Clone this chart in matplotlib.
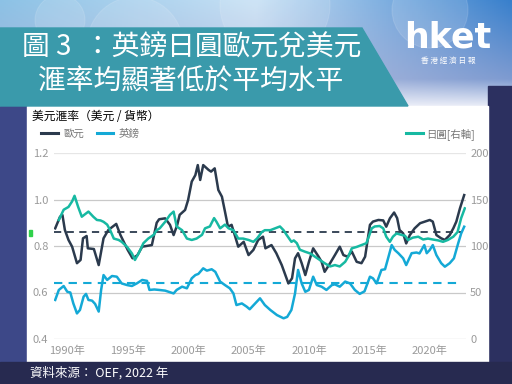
import numpy as np
import matplotlib
matplotlib.use("Agg")
import matplotlib.pyplot as plt
from matplotlib.patches import Rectangle, Polygon, Circle
from matplotlib.lines import Line2D

plt.rcParams['font.family'] = ['Noto Sans CJK TC', 'DejaVu Sans']

# ---- data ----
eur_year = [1989.0, 1989.4, 1989.6, 1989.8, 1990.1, 1990.4, 1990.8, 1991.1, 1991.3, 1991.6,
            1991.7, 1992.2, 1992.6, 1993.0, 1993.4, 1994.05, 1994.4, 1995.0, 1995.4, 1995.8,
            1996.2, 1997.0, 1997.4, 1997.6, 1998.1, 1998.5, 1998.8, 1999.1, 1999.3, 1999.75,
            2000.0, 2000.3, 2000.6, 2000.8, 2001.0, 2001.25, 2001.7, 2001.9, 2002.2, 2002.5,
            2002.8, 2003.05, 2003.3, 2003.6, 2003.9, 2004.15, 2004.6, 2005.0, 2005.4, 2005.8,
            2006.2, 2006.4, 2006.9, 2007.3, 2007.75, 2008.3, 2008.6, 2008.85, 2009.1, 2009.4,
            2009.7, 2010.0, 2010.35, 2010.8, 2011.05, 2011.3, 2011.75, 2012.15, 2012.55, 2012.85,
            2013.2, 2013.55, 2013.95, 2014.35, 2014.65, 2014.9, 2015.05, 2015.3, 2015.75, 2016.15,
            2016.4, 2016.7, 2017.05, 2017.3, 2017.5, 2017.8, 2018.05, 2018.35, 2018.75, 2019.2,
            2019.6, 2020.0, 2020.25, 2020.55, 2020.95, 2021.25, 2021.65, 2021.95, 2022.2, 2022.5,
            2022.85]
eur_val = [0.876, 0.926, 0.933, 0.869, 0.826, 0.797, 0.726, 0.740, 0.833, 0.843,
           0.790, 0.787, 0.718, 0.833, 0.869, 0.895, 0.847, 0.783, 0.747, 0.760,
           0.797, 0.804, 0.900, 0.915, 0.919, 0.891, 0.847, 0.891, 0.934, 0.955,
           0.998, 1.077, 1.105, 1.148, 1.084, 1.148, 1.127, 1.120, 1.134, 1.041,
           1.012, 0.948, 0.883, 0.891, 0.840, 0.797, 0.818, 0.761, 0.783, 0.826,
           0.840, 0.790, 0.804, 0.769, 0.718, 0.639, 0.661, 0.747, 0.769, 0.726,
           0.675, 0.732, 0.790, 0.754, 0.732, 0.689, 0.726, 0.761, 0.797, 0.761,
           0.754, 0.776, 0.732, 0.726, 0.754, 0.840, 0.891, 0.905, 0.912, 0.910,
           0.883, 0.919, 0.944, 0.920, 0.869, 0.854, 0.811, 0.847, 0.876, 0.898,
           0.905, 0.912, 0.905, 0.847, 0.833, 0.826, 0.847, 0.876, 0.905, 0.962,
           1.019]

gbp_year = [1989.0, 1989.3, 1989.7, 1990.0, 1990.25, 1990.5, 1990.8, 1991.05, 1991.35, 1991.55,
            1991.75, 1992.05, 1992.3, 1992.6, 1992.8, 1993.0, 1993.3, 1993.7, 1994.1, 1994.5,
            1994.95, 1995.35, 1995.75, 1996.2, 1996.6, 1996.8, 1997.2, 1997.6, 1998.1, 1998.8,
            1999.05, 1999.5, 1999.9, 2000.3, 2000.6, 2000.85, 2001.25, 2001.55, 2001.95, 2002.25,
            2002.65, 2003.05, 2003.45, 2003.75, 2004.0, 2004.45, 2004.85, 2005.1, 2005.55, 2005.95,
            2006.35, 2006.8, 2007.35, 2007.9, 2008.2, 2008.55, 2008.85, 2009.1, 2009.4, 2009.7,
            2010.0, 2010.35, 2010.65, 2011.05, 2011.45, 2011.9, 2012.15, 2012.55, 2013.0, 2013.4,
            2013.8, 2014.2, 2014.6, 2014.9, 2015.05, 2015.3, 2015.6, 2016.0, 2016.3, 2016.55,
            2016.85, 2017.1, 2017.4, 2017.8, 2018.05, 2018.5, 2018.9, 2019.15, 2019.55, 2019.75,
            2020.0, 2020.25, 2020.55, 2020.95, 2021.25, 2021.65, 2022.0, 2022.35, 2022.6, 2022.85]
gbp_val = [0.568, 0.611, 0.628, 0.603, 0.600, 0.553, 0.510, 0.525, 0.582, 0.594,
           0.568, 0.565, 0.551, 0.518, 0.611, 0.675, 0.654, 0.671, 0.668, 0.639,
           0.632, 0.628, 0.639, 0.654, 0.650, 0.611, 0.613, 0.611, 0.608, 0.596,
           0.611, 0.625, 0.618, 0.661, 0.675, 0.680, 0.704, 0.694, 0.700, 0.689,
           0.647, 0.632, 0.618, 0.596, 0.546, 0.553, 0.539, 0.528, 0.553, 0.575,
           0.546, 0.525, 0.503, 0.489, 0.495, 0.525, 0.596, 0.697, 0.639, 0.603,
           0.611, 0.668, 0.632, 0.625, 0.611, 0.632, 0.635, 0.625, 0.647, 0.639,
           0.611, 0.594, 0.605, 0.647, 0.668, 0.661, 0.639, 0.697, 0.700, 0.747,
           0.804, 0.783, 0.769, 0.747, 0.718, 0.769, 0.772, 0.768, 0.804, 0.769,
           0.783, 0.804, 0.761, 0.726, 0.711, 0.726, 0.747, 0.811, 0.854, 0.883]

jpy_year = [1989.3, 1989.7, 1990.1, 1990.4, 1990.6, 1990.9, 1991.2, 1991.55, 1991.75, 1992.15,
            1992.45, 1992.75, 1993.0, 1993.3, 1993.55, 1993.85, 1994.25, 1994.5, 1994.95, 1995.35,
            1995.6, 1995.9, 1996.3, 1996.7, 1997.15, 1997.4, 1997.65, 1998.1, 1998.5, 1998.8,
            1999.05, 1999.5, 1999.9, 2000.3, 2000.7, 2001.15, 2001.4, 2001.8, 2002.15, 2002.35,
            2002.65, 2003.05, 2003.35, 2003.75, 2004.15, 2004.55, 2005.0, 2005.4, 2005.7, 2006.1,
            2006.35, 2006.8, 2007.2, 2007.6, 2007.9, 2008.15, 2008.55, 2008.75, 2009.0, 2009.25,
            2009.65, 2010.1, 2010.5, 2010.9, 2011.3, 2011.75, 2012.15, 2012.55, 2013.0, 2013.25,
            2013.55, 2013.95, 2014.35, 2014.75, 2014.9, 2015.2, 2015.45, 2015.85, 2016.15, 2016.4,
            2016.7, 2016.95, 2017.25, 2017.65, 2017.95, 2018.2, 2018.6, 2019.05, 2019.45, 2019.85,
            2020.25, 2020.7, 2021.1, 2021.5, 2021.95, 2022.3, 2022.6, 2022.9]
jpy_val = [128, 139, 142, 148, 154, 142, 131.5, 135, 137, 131.5,
           128, 127.5, 126, 123, 117, 108, 106.5, 104.5, 99, 92,
           85, 92, 103, 108, 112, 117, 119, 126, 133.5, 137,
           121, 117, 108, 106.5, 108, 112, 119, 121, 130, 126,
           119, 123, 119, 117, 108, 108, 106.5, 104.5, 108, 115,
           117, 117, 119, 121, 117, 112, 104.5, 106, 103, 96,
           94, 92, 88.5, 85, 81.5, 78, 79.5, 78, 83, 88.5,
           97.5, 99, 101, 103, 108, 119, 121, 121.5, 119, 110,
           104.5, 110, 113.5, 112, 111, 106.5, 109, 110, 107, 108,
           107, 106, 104.5, 106.5, 110, 115, 130, 140.5]

eur_avg = 0.861
gbp_avg = 0.642
year_ticks = [1990, 1995, 2000, 2005, 2010, 2015, 2020]
left_ticks = [0.4, 0.6, 0.8, 1.0, 1.2]
right_ticks = [0, 50, 100, 150, 200]

C_EUR = '#2b3a4d'
C_GBP = '#14a9d6'
C_JPY = '#17b9a2'
NAVY = '#272a50'

fig = plt.figure(figsize=(5.12, 3.84), dpi=100)

# ---- background decoration (pixel coordinates) ----
bg = fig.add_axes([0, 0, 1, 1])
bg.set_xlim(0, 512)
bg.set_ylim(384, 0)
bg.axis('off')
bg.add_patch(Rectangle((0, 0), 512, 384, color=NAVY, zorder=0))

# top photo-like gradient
H, W = 110, 256
xs = np.linspace(0, 1, W)
ys = np.linspace(0, 1, H)[:, None]
left_c = np.array([0.55, 0.76, 0.90])
mid_c = np.array([0.78, 0.88, 0.96])
right_c = np.array([0.22, 0.50, 0.80])
top = np.where(xs[:, None] < 0.5,
               left_c + (mid_c - left_c) * (xs[:, None] / 0.5),
               mid_c + (right_c - mid_c) * ((xs[:, None] - 0.5) / 0.5))
lav = np.array([0.68, 0.68, 0.83])
wht = np.array([0.97, 0.97, 0.99])
img = np.zeros((H, W, 3))
for i in range(H):
    t = ys[i, 0]
    if t < 0.72:
        a = t / 0.72
        row = top * (1 - a * 0.6) + lav * a * 0.6
    else:
        a = (t - 0.72) / 0.28
        row = (top * 0.4 + lav * 0.6) * (1 - a) + wht * a
    img[i] = row
bg.imshow(img, extent=(0, 512, 110, 0), aspect='auto', zorder=1)
for cx, cy, r in [(135, 45, 48), (275, 5, 55), (430, 10, 38), (60, 20, 25)]:
    bg.add_patch(Circle((cx, cy), r, facecolor='white', alpha=0.12,
                        edgecolor='white', lw=0.8, zorder=2))

# side and bottom frames, white panel
bg.add_patch(Rectangle((488, 86), 24, 298, color='#2c3060', zorder=3))
bg.add_patch(Rectangle((0, 106), 27, 256, color='#3d4888', zorder=3))
bg.add_patch(Rectangle((27, 106), 461, 256, color='white', zorder=3))
bg.add_patch(Rectangle((0, 362), 512, 22, color=NAVY, zorder=3))
bg.add_patch(Rectangle((28.5, 230), 3, 6, color='#2fd14a', zorder=4))

# title banner
bg.add_patch(Polygon([(0, 28), (362, 28), (408, 106), (0, 106)],
                     closed=True, color='#3a9aab', zorder=4))
bg.text(22, 47, '圖 3  ：英鎊日圓歐元兌美元', color='white', fontsize=20,
        fontweight='light', va='center', ha='left', zorder=5)
bg.text(38, 82, '滙率均顯著低於平均水平', color='white', fontsize=20,
        fontweight='light', va='center', ha='left', zorder=5)

# logo
bg.text(448, 38, 'hket', color='white', fontsize=25, fontweight='bold',
        family=['DejaVu Sans'], ha='center', va='center', zorder=5)
bg.text(448, 61, '香 港 經 濟 日 報', color='white', fontsize=5.5,
        ha='center', va='center', zorder=5)

# source
bg.text(30, 373, '資料來源： OEF, 2022 年', color='white', fontsize=9,
        ha='left', va='center', zorder=5)

# chart subtitle
bg.text(32, 117, '美元滙率（美元 / 貨幣）', color='black', fontsize=8.5,
        ha='left', va='center', zorder=5)

# ---- main chart ----
ax = fig.add_axes([54 / 512, 1 - 339 / 384, 412 / 512, 186 / 384])
ax.set_facecolor('none')
ax2 = ax.twinx()
for a in (ax, ax2):
    for s in a.spines.values():
        s.set_visible(False)

ax.set_xlim(1988.9, 2023.0)
ax.set_ylim(0.4, 1.2)
ax2.set_ylim(0, 200)

for v in left_ticks:
    ax.axhline(v, color='#e6e6e6' if v == 1.2 else '#c9c9c9', lw=0.9, zorder=1)

ax.axhline(eur_avg, xmax=0.99, color=C_EUR, lw=1.3, ls=(0, (4, 3)), zorder=2)
ax.axhline(gbp_avg, xmax=0.99, color=C_GBP, lw=1.5, ls=(0, (4, 3)), zorder=2)

ax.plot(gbp_year, gbp_val, color=C_GBP, lw=1.8, zorder=3)
ax.plot(eur_year, eur_val, color=C_EUR, lw=1.8, zorder=4)
ax2.plot(jpy_year, jpy_val, color=C_JPY, lw=1.8, zorder=3)

tick_font = ['Liberation Sans Narrow', 'Noto Sans CJK TC']
ax.set_yticks(left_ticks)
ax.set_yticklabels(['%.1f' % v for v in left_ticks], family=tick_font)
ax2.set_yticks(right_ticks)
ax2.set_yticklabels([str(v) for v in right_ticks], family=tick_font)
ax.set_xticks(year_ticks)
ax.set_xticklabels(['%d年' % y for y in year_ticks], family=tick_font)
ax.tick_params(axis='y', length=0, pad=4, labelsize=8, labelcolor='#9a9a9a')
ax2.tick_params(axis='y', length=0, pad=3, labelsize=8, labelcolor='#9a9a9a')
ax.tick_params(axis='x', length=0, pad=5, labelsize=8, labelcolor='#9a9a9a')

# legends
h_left = [Line2D([], [], color=C_EUR, lw=2.2), Line2D([], [], color=C_GBP, lw=2.2)]
fig.legend(h_left, ['歐元', '英鎊'], loc='center left', ncol=2,
           bbox_to_anchor=(32 / 512, 1 - 134 / 384), frameon=False, fontsize=7.5,
           handlelength=1.6, handletextpad=0.5, columnspacing=1.2, labelcolor='#777777')
fig.legend([Line2D([], [], color=C_JPY, lw=2.2)], ['日圓[右軸]'], loc='center right',
           bbox_to_anchor=(484 / 512, 1 - 134 / 384), frameon=False, fontsize=7.5,
           handlelength=1.6, handletextpad=0.3, labelcolor='#777777')

fig.savefig('out.png', dpi=100)
